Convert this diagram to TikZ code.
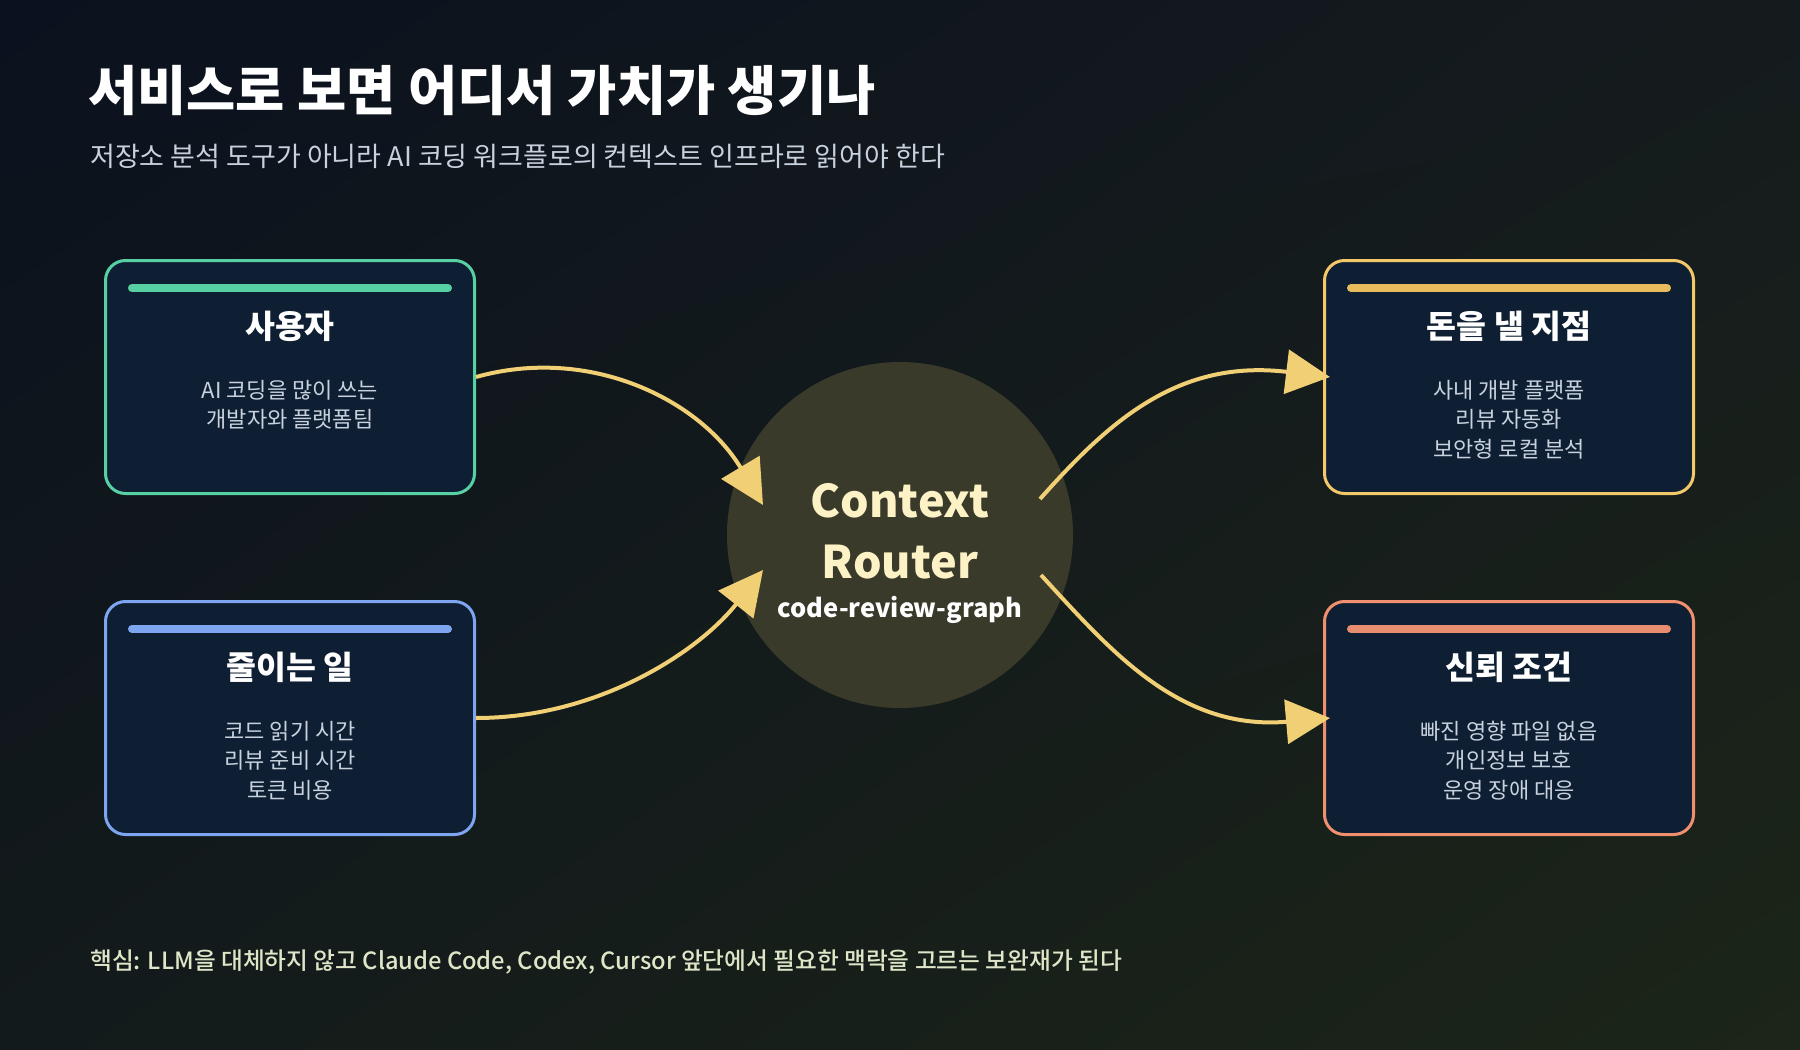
\documentclass[tikz,border=0pt]{standalone}
\usepackage{fontspec}
\setmainfont{Noto Sans CJK KR}
\newfontfamily\krmed{Noto Sans CJK KR Medium}
\usetikzlibrary{positioning,arrows.meta,calc,shadings}
\definecolor{bgtl}{HTML}{0B111E}
\definecolor{bgtr}{HTML}{151B1D}
\definecolor{bgbl}{HTML}{131A1B}
\definecolor{bgbr}{HTML}{1C2518}
\definecolor{cardbg}{HTML}{0F1F33}
\definecolor{bodytext}{HTML}{C8D2DE}
\definecolor{mint}{HTML}{57D1A3}
\definecolor{sky}{HTML}{7EA6F0}
\definecolor{gold}{HTML}{F3C869}
\definecolor{goldbar}{HTML}{E8BB5C}
\definecolor{salmon}{HTML}{F0906F}
\definecolor{salmonbar}{HTML}{E88D70}
\definecolor{flowyellow}{HTML}{F0CF75}
\definecolor{hubfill}{HTML}{393A2A}
\definecolor{cream}{HTML}{FDF1C6}
\definecolor{footnote}{HTML}{DFE6C8}
\tikzstyle{card}=[rectangle,rounded corners=20pt,line width=3pt,fill=cardbg,
minimum width=369pt,minimum height=233pt,inner sep=0pt]
\tikzstyle{bar}=[line width=8pt,line cap=round]
\tikzstyle{cardtitle}=[anchor=base,inner sep=0pt,text=white,font=\fontsize{32.5}{32.5}\selectfont\bfseries]
\tikzstyle{cardtext}=[anchor=base,inner sep=0pt,align=center,text=bodytext,font=\fontsize{22}{29.5}\selectfont]
\tikzstyle{hub}=[circle,fill=hubfill,minimum size=346pt,inner sep=0pt]
\tikzstyle{flow}=[line width=4pt,draw=flowyellow,-{Triangle[length=44pt,width=44pt]}]
\begin{document}
\begin{tikzpicture}[x=1pt,y=-1pt]
            % BACKGROUND
            \useasboundingbox (0,0) rectangle (1800,1050);
            \shade[upper left=bgtl,upper right=bgtr,lower left=bgbl,lower right=bgbr] (0,0) rectangle (1800,1050);

            \node[anchor=base west,inner sep=0pt,text=white,font=\fontsize{53.5}{53.5}\selectfont\bfseries] (title) at (88,110) {서비스로 보면 어디서 가치가 생기나};
            \node[anchor=base west,inner sep=0pt,text=bodytext,font=\fontsize{27}{27}\selectfont] (subtitle) at (90,166) {저장소 분석 도구가 아니라 AI 코딩 워크플로의 컨텍스트 인프라로 읽어야 한다};

            % USER PART
            \node[card,draw=mint] (user) at (290,377) {};
            \draw[bar,draw=mint] ([xshift=28pt,yshift=-29pt]user.north west) -- ([xshift=-28pt,yshift=-29pt]user.north east);
            \node[cardtitle] (usertitle) at ([yshift=-79pt]user.north) {사용자};
            \node[cardtext] (userbody) at ([yshift=-168.5pt]user.north) {AI 코딩을 많이 쓰는\\개발자와 플랫폼팀};

            % SAVING PART
            \node[card,draw=sky,below=105pt of user] (saving) {};
            \draw[bar,draw=sky] ([xshift=28pt,yshift=-29pt]saving.north west) -- ([xshift=-28pt,yshift=-29pt]saving.north east);
            \node[cardtitle] (savingtitle) at ([yshift=-79pt]saving.north) {줄이는 일};
            \node[cardtext] (savingbody) at ([yshift=-198pt]saving.north) {코드 읽기 시간\\리뷰 준비 시간\\토큰 비용};

            % MONEY PART
            \node[card,draw=gold,right=847pt of user] (money) {};
            \draw[bar,draw=goldbar] ([xshift=28pt,yshift=-29pt]money.north west) -- ([xshift=-28pt,yshift=-29pt]money.north east);
            \node[cardtitle] (moneytitle) at ([yshift=-79pt]money.north) {돈을 낼 지점};
            \node[cardtext] (moneybody) at ([yshift=-198pt]money.north) {사내 개발 플랫폼\\리뷰 자동화\\보안형 로컬 분석};

            % TRUST PART
            \node[card,draw=salmon,below=105pt of money] (trust) {};
            \draw[bar,draw=salmonbar] ([xshift=28pt,yshift=-29pt]trust.north west) -- ([xshift=-28pt,yshift=-29pt]trust.north east);
            \node[cardtitle] (trusttitle) at ([yshift=-79pt]trust.north) {신뢰 조건};
            \node[cardtext] (trustbody) at ([yshift=-198pt]trust.north) {빠진 영향 파일 없음\\개인정보 보호\\운영 장애 대응};

            % ROUTER PART
            \node[hub] (router) at (900,535) {};
            \node[anchor=base,inner sep=0pt,text=cream,font=\fontsize{45}{45}\selectfont\bfseries] (ctx) at (900,517) {Context};
            \node[anchor=base,inner sep=0pt,text=cream,font=\fontsize{45}{45}\selectfont\bfseries] (rtr) at (900,578) {Router};
            \node[anchor=base,inner sep=0pt,text=white,font=\fontsize{25.5}{25.5}\selectfont\bfseries] (crg) at (900,617) {code-review-graph};

            % Connections
            \coordinate (inA) at ([shift={(-137,-30)}]router.center);
            \coordinate (inB) at ([shift={(-137,35)}]router.center);
            \coordinate (outA) at ([shift={(140,-36)}]router.center);
            \coordinate (outB) at ([shift={(141,40)}]router.center);
            \coordinate (moneytip) at ([xshift=7pt]money.west);
            \coordinate (trusttip) at ([xshift=7pt]trust.west);

            \draw[flow] (user.east) .. controls +(114,-32) and +(-63,-105) .. (inA);
            \draw[flow] (saving.east) .. controls +(124,0) and +(-63,80) .. (inB);
            \draw[flow] (outA) .. controls +(70,-79) and +(-151,-18) .. (moneytip);
            \draw[flow] (outB) .. controls +(69,75) and +(-151,13) .. (trusttip);

            \node[anchor=base west,inner sep=0pt,text=footnote,font=\fontsize{23.7}{23.7}\selectfont\krmed] (footer) at (90,969) {핵심: LLM을 대체하지 않고 Claude Code, Codex, Cursor 앞단에서 필요한 맥락을 고르는 보완재가 된다};

        \end{tikzpicture}
\end{document}
